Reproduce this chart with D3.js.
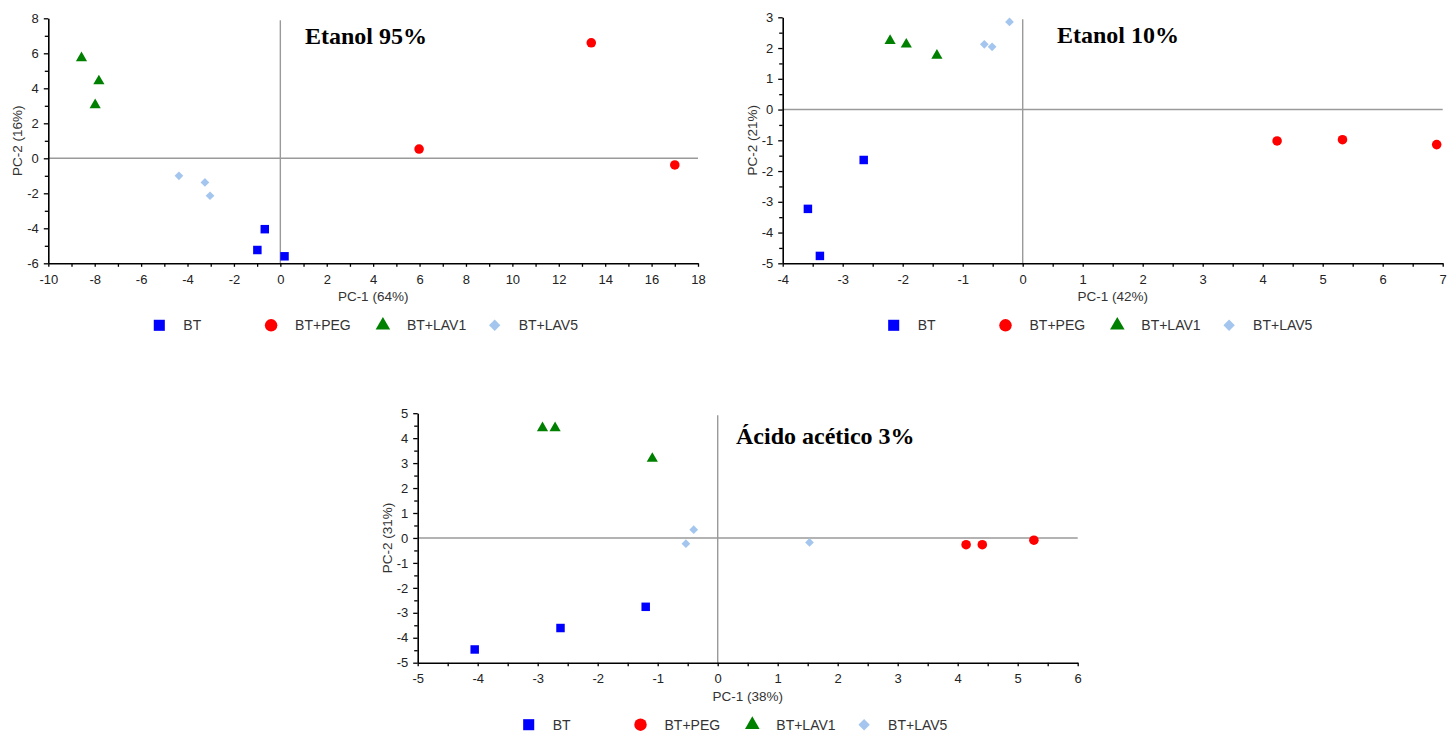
<!DOCTYPE html>
<html>
<head>
<meta charset="utf-8">
<script src="https://cdn.jsdelivr.net/npm/d3@7/dist/d3.min.js"></script>
<style>
  html, body { margin: 0; padding: 0; background: #fff; }
  svg { display: block; }
</style>
</head>
<body>
<svg id="chart" width="1452" height="733"></svg>
<script>
// Score plots (PC-1 vs PC-2) for three food simulants.
const seriesNames = ["BT", "BT+PEG", "BT+LAV1", "BT+LAV5"];
const seriesColors = ["#0000ff", "#ff0000", "#008000", "#a4c6ee"];

// Etanol 95% — [PC-1, PC-2]
const e95_BT   = [[-0.67, -4.05], [-0.99, -5.24], [0.18, -5.6]];
const e95_PEG  = [[5.98, 0.53], [13.4, 6.6], [17.0, -0.38]];
const e95_LAV1 = [[-8.57, 5.73], [-7.82, 4.41], [-7.98, 3.05]];
const e95_LAV5 = [[-4.37, -1.0], [-3.25, -1.38], [-3.03, -2.14]];

// Etanol 10%
const e10_BT   = [[-3.58, -3.23], [-3.38, -4.76], [-2.65, -1.64]];
const e10_PEG  = [[4.24, -1.02], [5.33, -0.98], [6.9, -1.14]];
const e10_LAV1 = [[-2.21, 2.24], [-1.94, 2.12], [-1.43, 1.76]];
const e10_LAV5 = [[-0.64, 2.12], [-0.51, 2.04], [-0.22, 2.85]];

// Ácido acético 3%
const aa_BT   = [[-4.05, -4.47], [-2.62, -3.61], [-1.2, -2.76]];
const aa_PEG  = [[4.14, -0.27], [4.41, -0.27], [5.27, -0.09]];
const aa_LAV1 = [[-2.92, 4.41], [-2.71, 4.41], [-1.09, 3.18]];
const aa_LAV5 = [[-0.4, 0.33], [-0.53, -0.23], [1.53, -0.18]];

const panels = [
  { title: "Etanol 95%", xLabel: "PC-1 (64%)", yLabel: "PC-2 (16%)",
    xDomain: [-10, 18], yDomain: [-6, 8], xStep: 2, yStep: 2,
    box: { left: 48.3, right: 698, top: 18.3, bottom: 263.3 },
    titlePos: [305, 44],
    series: [e95_BT, e95_PEG, e95_LAV1, e95_LAV5] },
  { title: "Etanol 10%", xLabel: "PC-1 (42%)", yLabel: "PC-2 (21%)",
    xDomain: [-4, 7], yDomain: [-5, 3], xStep: 1, yStep: 1,
    box: { left: 782.7, right: 1442.7, top: 17.3, bottom: 263.3 },
    titlePos: [1057, 43],
    series: [e10_BT, e10_PEG, e10_LAV1, e10_LAV5] },
  { title: "Ácido acético 3%", xLabel: "PC-1 (38%)", yLabel: "PC-2 (31%)",
    xDomain: [-5, 6], yDomain: [-5, 5], xStep: 1, yStep: 1,
    box: { left: 417.7, right: 1077.7, top: 413.2, bottom: 662.7 },
    titlePos: [736, 444],
    series: [aa_BT, aa_PEG, aa_LAV1, aa_LAV5] }
];

const svg = d3.select("#chart");

// Marker shapes: square, circle, triangle, diamond (rotated square)
function markerPath(i, scale) {
  const sizes = [72, 72, 54, 38];
  const types = [d3.symbolSquare, d3.symbolCircle, d3.symbolTriangle, d3.symbolSquare];
  return d3.symbol().type(types[i]).size(sizes[i] * scale)();
}
function markerRotate(i) { return i === 3 ? " rotate(45)" : ""; }

// evenly spaced values from a up to (and including) b
function range(a, b, step) {
  const out = [];
  const n = Math.floor((b - a) / step + 1e-9);
  for (let k = 0; k <= n; k++) out.push(+(a + k * step).toFixed(6));
  return out;
}

const fmt = d => (d < 0 ? "-" : "") + Math.abs(d);

panels.forEach(p => {
  const b = p.box;
  const x = d3.scaleLinear().domain(p.xDomain).range([b.left, b.right]);
  const y = d3.scaleLinear().domain(p.yDomain).range([b.bottom, b.top]);
  const g = svg.append("g");

  // zero reference lines
  g.append("line")
    .attr("x1", x(0)).attr("x2", x(0))
    .attr("y1", y(p.yDomain[1]) + 2).attr("y2", y(p.yDomain[0]))
    .attr("stroke", "#9a9a9a").attr("stroke-width", 1.4);
  g.append("line")
    .attr("x1", x(p.xDomain[0])).attr("x2", x(p.xDomain[1]))
    .attr("y1", y(0)).attr("y2", y(0))
    .attr("stroke", "#9a9a9a").attr("stroke-width", 1.4);

  const xMajor = range(p.xDomain[0], p.xDomain[1], p.xStep);
  const xMinor = range(p.xDomain[0] + p.xStep / 2, p.xDomain[1], p.xStep);
  const yMajor = range(p.yDomain[0], p.yDomain[1], p.yStep);
  const yMinor = range(p.yDomain[0] + p.yStep / 2, p.yDomain[1], p.yStep);

  // x axis
  const gx = g.append("g").attr("transform", `translate(0,${b.bottom})`);
  gx.call(d3.axisBottom(x).tickValues(xMajor).tickFormat(fmt)
      .tickSize(3.5).tickSizeOuter(0).tickPadding(8));
  gx.append("g").call(d3.axisBottom(x).tickValues(xMinor).tickFormat("")
      .tickSize(3.5).tickSizeOuter(0))
    .select(".domain").remove();

  // y axis
  const gy = g.append("g").attr("transform", `translate(${b.left},0)`);
  gy.call(d3.axisLeft(y).tickValues(yMajor).tickFormat(fmt)
      .tickSize(4.5).tickSizeOuter(0).tickPadding(5));
  gy.append("g").call(d3.axisLeft(y).tickValues(yMinor).tickFormat("")
      .tickSize(3.5).tickSizeOuter(0))
    .select(".domain").remove();

  g.selectAll(".domain").attr("stroke", "#000").attr("stroke-width", 1.6);
  g.selectAll(".tick line").attr("stroke", "#000").attr("stroke-width", 1.3);
  g.selectAll(".tick text")
    .attr("font-family", "'Liberation Sans', Arial, sans-serif")
    .attr("font-size", 13).attr("fill", "#222");

  // axis titles
  g.append("text")
    .attr("x", (b.left + b.right) / 2).attr("y", b.bottom + 38)
    .attr("text-anchor", "middle")
    .attr("font-family", "'Liberation Sans', Arial, sans-serif")
    .attr("font-size", 13.5).attr("fill", "#333")
    .text(p.xLabel);
  g.append("text")
    .attr("transform", `translate(${b.left - 26},${(b.top + b.bottom) / 2}) rotate(-90)`)
    .attr("text-anchor", "middle")
    .attr("font-family", "'Liberation Sans', Arial, sans-serif")
    .attr("font-size", 13.5).attr("fill", "#333")
    .text(p.yLabel);

  // panel title
  g.append("text")
    .attr("x", p.titlePos[0]).attr("y", p.titlePos[1])
    .attr("font-family", "'Liberation Serif', 'Times New Roman', serif")
    .attr("font-weight", "bold").attr("font-size", 24).attr("fill", "#000")
    .text(p.title);

  // points
  p.series.forEach((pts, i) => {
    g.append("g").selectAll("path").data(pts).join("path")
      .attr("d", markerPath(i, 1))
      .attr("transform", d => `translate(${x(d[0])},${y(d[1])})${markerRotate(i)}`)
      .attr("fill", seriesColors[i]);
  });

  // legend
  const legY = b.bottom + 62;
  const leg = g.append("g");
  seriesNames.forEach((name, i) => {
    const cx = b.left + 111 + i * 111.8;
    leg.append("path")
      .attr("d", markerPath(i, 1.7))
      .attr("transform", `translate(${cx},${legY})${markerRotate(i)}`)
      .attr("fill", seriesColors[i]);
    leg.append("text")
      .attr("x", cx + 24).attr("y", legY + 5)
      .attr("font-family", "'Liberation Sans', Arial, sans-serif")
      .attr("font-size", 14).attr("fill", "#333")
      .text(name);
  });
});
</script>
</body>
</html>
